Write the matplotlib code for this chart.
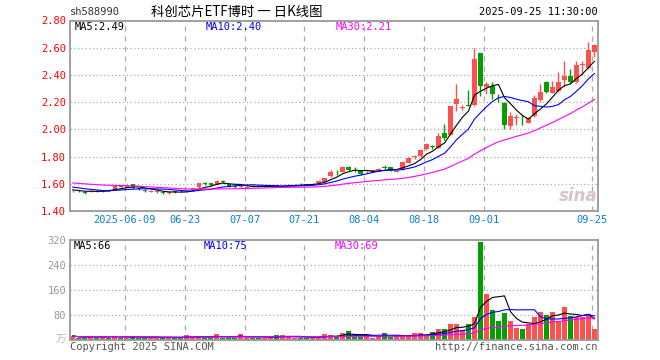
import numpy as np
import pandas as pd
import matplotlib
matplotlib.use('Agg')
import matplotlib.pyplot as plt

# Data

# trading days shown, 2025-05-26 .. 2025-09-25 (Dragon Boat holiday 06-02 closed)
days = pd.bdate_range('2025-05-26', '2025-09-25')
days = days[days != pd.Timestamp('2025-06-02')]

opens = [1.545, 1.550, 1.541, 1.540, 1.550, 1.547, 1.556, 1.565, 1.587, 1.578,
         1.598, 1.572, 1.558, 1.542, 1.540, 1.536, 1.530, 1.545, 1.550, 1.544,
         1.552, 1.574, 1.603, 1.604, 1.592, 1.620, 1.596, 1.584, 1.578, 1.572,
         1.584, 1.585, 1.578, 1.580, 1.588, 1.582, 1.585, 1.587, 1.597, 1.598,
         1.594, 1.604, 1.614, 1.655, 1.688, 1.690, 1.726, 1.703, 1.697, 1.684,
         1.690, 1.700, 1.722, 1.720, 1.690, 1.705, 1.755, 1.797, 1.805, 1.855,
         1.875, 1.865, 1.975, 1.960, 2.185, 2.160, 2.180, 2.180, 2.562, 2.310,
         2.320, 2.225, 2.197, 2.025, 2.087, 2.070, 2.050, 2.095, 2.216, 2.350,
         2.270, 2.280, 2.365, 2.390, 2.345, 2.476, 2.450, 2.570]
closes = [1.548, 1.545, 1.534, 1.550, 1.545, 1.552, 1.553, 1.588, 1.578, 1.585,
          1.576, 1.560, 1.548, 1.546, 1.543, 1.530, 1.536, 1.541, 1.545, 1.549,
          1.566, 1.604, 1.600, 1.590, 1.620, 1.612, 1.580, 1.580, 1.584, 1.577,
          1.580, 1.578, 1.582, 1.585, 1.584, 1.587, 1.590, 1.592, 1.595, 1.594,
          1.600, 1.623, 1.642, 1.690, 1.685, 1.726, 1.700, 1.700, 1.673, 1.690,
          1.700, 1.710, 1.718, 1.700, 1.695, 1.760, 1.787, 1.800, 1.846, 1.893,
          1.870, 1.950, 1.940, 2.170, 2.220, 2.166, 2.175, 2.520, 2.320, 2.330,
          2.260, 2.220, 2.035, 2.100, 2.090, 2.066, 2.087, 2.230, 2.275, 2.275,
          2.310, 2.350, 2.390, 2.345, 2.470, 2.480, 2.585, 2.620]
highs = [1.556, 1.553, 1.545, 1.556, 1.553, 1.558, 1.560, 1.592, 1.590, 1.590,
         1.602, 1.575, 1.560, 1.552, 1.548, 1.540, 1.540, 1.548, 1.552, 1.553,
         1.570, 1.606, 1.614, 1.607, 1.625, 1.628, 1.600, 1.592, 1.588, 1.582,
         1.588, 1.590, 1.586, 1.590, 1.592, 1.590, 1.600, 1.596, 1.604, 1.600,
         1.604, 1.628, 1.646, 1.700, 1.700, 1.730, 1.728, 1.722, 1.700, 1.695,
         1.704, 1.714, 1.740, 1.724, 1.700, 1.765, 1.795, 1.815, 1.850, 1.900,
         1.885, 1.975, 2.040, 2.175, 2.330, 2.180, 2.290, 2.600, 2.562, 2.350,
         2.350, 2.260, 2.200, 2.130, 2.110, 2.110, 2.090, 2.255, 2.335, 2.355,
         2.355, 2.420, 2.500, 2.440, 2.500, 2.500, 2.645, 2.625]
lows = [1.540, 1.538, 1.526, 1.536, 1.540, 1.543, 1.547, 1.562, 1.574, 1.575,
        1.560, 1.555, 1.538, 1.536, 1.533, 1.522, 1.525, 1.535, 1.540, 1.540,
        1.548, 1.570, 1.590, 1.587, 1.590, 1.605, 1.575, 1.572, 1.572, 1.566,
        1.575, 1.574, 1.574, 1.576, 1.578, 1.578, 1.582, 1.584, 1.588, 1.589,
        1.590, 1.600, 1.610, 1.650, 1.665, 1.685, 1.695, 1.685, 1.666, 1.678,
        1.685, 1.695, 1.710, 1.696, 1.685, 1.700, 1.750, 1.780, 1.800, 1.850,
        1.855, 1.860, 1.925, 1.955, 2.135, 2.140, 2.168, 2.175, 2.245, 2.260,
        2.220, 2.200, 2.000, 2.000, 2.030, 2.030, 2.045, 2.090, 2.210, 2.270,
        2.265, 2.275, 2.320, 2.340, 2.340, 2.400, 2.445, 2.535]
# volume, 万手
volumes = [13, 8, 8, 13, 8, 13, 8, 13, 8, 8,
           13, 8, 8, 8, 8, 8, 8, 8, 8, 16,
           8, 13, 8, 8, 19, 8, 8, 8, 19, 8,
           8, 8, 8, 8, 16, 16, 10, 8, 8, 8,
           8, 8, 19, 15, 11, 23, 29, 11, 11, 13,
           8, 13, 21, 11, 13, 13, 13, 21, 21, 13,
           27, 35, 35, 51, 51, 32, 51, 73, 314, 147,
           96, 62, 87, 62, 39, 35, 51, 75, 91, 80,
           91, 62, 106, 77, 73, 73, 83, 34]
# closes before the window (estimated), only to seed the moving averages
pre_closes = [1.64, 1.63, 1.65, 1.64, 1.62, 1.61, 1.63, 1.62, 1.60, 1.61,
              1.63, 1.64, 1.62, 1.61, 1.60, 1.62, 1.63, 1.61, 1.60, 1.62,
              1.60, 1.59, 1.60, 1.59, 1.595, 1.57, 1.56, 1.55, 1.55]

tick_days = ['2025-06-09', '2025-06-23', '2025-07-07', '2025-07-21',
             '2025-08-04', '2025-08-18', '2025-09-01', '2025-09-25']
tick_labels = ['2025-06-09', '06-23', '07-07', '07-21', '08-04', '08-18', '09-01', '09-25']

price_ticks = [1.40, 1.60, 1.80, 2.00, 2.20, 2.40, 2.60, 2.80]
vol_ticks = [80, 160, 240, 320]

# Moving averages

n = len(closes)
allc = pd.Series(pre_closes + closes)
ma5 = allc.rolling(5).mean().values[-n:]
ma10 = allc.rolling(10).mean().values[-n:]
ma30 = allc.rolling(30).mean().values[-n:]
vs = pd.Series(volumes, dtype=float)
vma5 = vs.rolling(5, min_periods=1).mean()
vma10 = vs.rolling(10, min_periods=1).mean()
vma30 = vs.rolling(30, min_periods=1).mean()

o = np.array(opens)
c = np.array(closes)
x = np.arange(n)
up = c >= o
RED = '#FF5050'
GREEN = '#00A000'
cols = np.where(up, RED, GREEN)

tick_pos = days.get_indexer(pd.to_datetime(tick_days)) - 0.35

# Plotting

plt.rcParams['font.family'] = ['DejaVu Sans Mono']
W, H = 660, 360
fig = plt.figure(figsize=(6.6, 3.6), dpi=100)
fig.patch.set_facecolor('white')

def fx(px):
    return px / W

def fy(py):
    return 1 - py / H

ax = fig.add_axes([fx(70.3), fy(211), fx(597.7) - fx(70.3), (211 - 20.5) / H])
axv = fig.add_axes([fx(70.3), fy(340), fx(597.7) - fx(70.3), 100 / H])

for a in (ax, axv):
    for s in a.spines.values():
        s.set_color('#999999')
        s.set_linewidth(1.3)
    a.set_xlim(-0.4, n - 0.45)
    a.tick_params(length=0, labelsize=7.5, pad=3)
    for t in tick_pos:
        a.axvline(t, color='#AAAAAA', lw=0.9, ls=(0, (4, 4)), zorder=0)

# candles
ax.vlines(x, lows, highs, colors=cols, lw=1, zorder=2)
body = np.maximum(np.abs(c - o), 0.004)
ax.bar(x, body, bottom=np.minimum(o, c), width=0.7, color=cols, lw=0, zorder=3)
ax.plot(x, ma5, color='black', lw=0.8, zorder=4)
ax.plot(x, ma10, color='#0000FF', lw=0.8, zorder=4)
ax.plot(x, ma30, color='#FF00FF', lw=0.8, zorder=4)

ax.set_ylim(1.40, 2.80)
ax.set_yticks(price_ticks)
ax.set_yticklabels([f'{p:.2f}' for p in price_ticks], color='#FF0000')
for p in price_ticks[1:-1]:
    ax.axhline(p, color='#AAAAAA', lw=0.9, ls=(0, (1, 2)), zorder=0)
ax.set_xticks(tick_pos)
ax.set_xticklabels(tick_labels, color='#0A80CC')

# volume
axv.bar(x, volumes, width=0.8, color=cols, lw=0, zorder=2)
axv.plot(x, vma5, color='black', lw=0.8, zorder=3)
axv.plot(x, vma10, color='#0000FF', lw=0.8, zorder=3)
axv.plot(x, vma30, color='#FF00FF', lw=0.8, zorder=3)
axv.set_ylim(0, 320)
axv.set_yticks(vol_ticks)
axv.set_yticklabels([str(v) for v in vol_ticks], color='#999999')
axv.set_xticks([])
for v in vol_ticks[:-1]:
    axv.axhline(v, color='#AAAAAA', lw=0.9, ls=(0, (1, 2)), zorder=0)

# header / labels
fig.text(fx(70), fy(12), 'sh588990', fontsize=7.5, color='#333333', va='center')
fig.text(fx(151), fy(12), '科创芯片ETF博时 一 日K线图', fontsize=9.6,
         family=['Noto Sans CJK SC', 'DejaVu Sans'], color='black', va='center')
fig.text(fx(598), fy(12), '2025-09-25 11:30:00', fontsize=7.5, color='black',
         va='center', ha='right')

fig.text(fx(75), fy(27), 'MA5:2.49', fontsize=7.5, color='black', va='center')
fig.text(fx(206), fy(27), 'MA10:2.40', fontsize=7.5, color='#0000FF', va='center')
fig.text(fx(336), fy(27), 'MA30:2.21', fontsize=7.5, color='#FF00FF', va='center')

fig.text(fx(74), fy(246), 'MA5:66', fontsize=7.5, color='black', va='center')
fig.text(fx(204), fy(246), 'MA10:75', fontsize=7.5, color='#0000FF', va='center')
fig.text(fx(335), fy(246), 'MA30:69', fontsize=7.5, color='#FF00FF', va='center')

fig.text(fx(66), fy(340), '万', fontsize=7.5, color='#BBBBBB', va='center', ha='right',
         family=['Noto Sans CJK SC', 'DejaVu Sans'])
fig.text(fx(70), fy(347), 'Copyright 2025 SINA.COM', fontsize=7.5, color='#555555', va='center')
fig.text(fx(597), fy(347), 'http://finance.sina.com.cn', fontsize=7.5, color='#555555',
         va='center', ha='right')

# sina watermark
fig.text(fx(578), fy(196), 'sina', fontsize=12, color='#D9C4C4', style='italic',
         weight='bold', ha='center', va='center', family='DejaVu Sans', zorder=0)

fig.savefig('out.png', dpi=100, facecolor='white')
